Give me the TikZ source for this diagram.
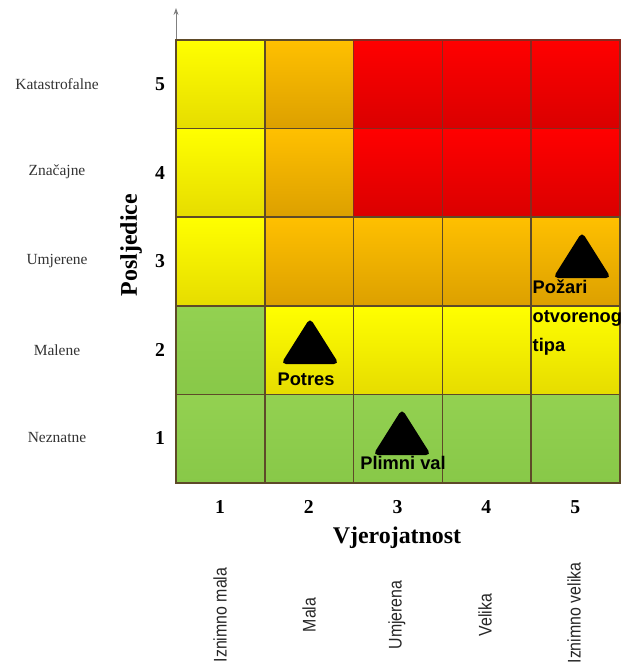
\documentclass[tikz,border=0pt]{standalone}
\usepackage{fontspec}
\setmainfont{Liberation Serif}
\newfontfamily\arialfont{Liberation Sans}
\usetikzlibrary{arrows.meta}

\definecolor{yelT}{HTML}{FFFF00}
\definecolor{yelB}{HTML}{E6DC00}
\definecolor{oraT}{HTML}{FFC000}
\definecolor{oraB}{HTML}{DCA000}
\definecolor{redT}{HTML}{FF0000}
\definecolor{redB}{HTML}{DA0000}
\definecolor{grnT}{HTML}{93D151}
\definecolor{grnB}{HTML}{88C848}
\definecolor{gridline}{HTML}{5E4A28}
\definecolor{redline}{HTML}{8A2A1E}

\tikzset{
  cell/.style={draw=gridline, line width=1.1pt},
  cellY/.style={cell, top color=yelT, bottom color=yelB},
  cellO/.style={cell, top color=oraT, bottom color=oraB},
  cellR/.style={cell, draw=redline, top color=redT, bottom color=redB},
  cellG/.style={cell, top color=grnT, bottom color=grnB},
  lvl/.style={font=\fontsize{11}{13}\selectfont, text=black!80},
  num/.style={font=\bfseries\fontsize{14}{16}\selectfont},
  axtitle/.style={font=\bfseries\fontsize{17}{20}\selectfont},
  prob/.style={rotate=90, font=\arialfont\fontsize{13}{15}\selectfont, text=black!85},
  hzlabel/.style={font=\arialfont\bfseries\fontsize{13}{20.6}\selectfont, inner sep=1pt}
}
\newcommand{\hazard}[2]{\fill[rounded corners=3.5pt] (#1,#2) -- ++(-29,46) -- ++(58,0) -- cycle;}
\newcommand{\narrow}[1]{\scalebox{0.87}[1]{#1}}

\begin{document}
\begin{tikzpicture}[x=0.025cm, y=-0.025cm]
  \useasboundingbox (0,0) rectangle (638,668);

  % axis
  \draw[gray, line width=0.6pt, -{Stealth[length=5pt,width=3.5pt]}] (176,483) -- (176,8);

  % matrix
  \foreach \row [count=\j] in {{cellY,cellO,cellR,cellR,cellR},{cellY,cellO,cellR,cellR,cellR},{cellY,cellO,cellO,cellO,cellO},{cellG,cellY,cellY,cellY,cellY},{cellG,cellG,cellG,cellG,cellG}}
    \foreach \c [count=\i] in \row
      \draw[\c] ({176+88.8*(\i-1)},{40+88.6*(\j-1)}) rectangle +(88.8,88.6);

  % consequence side
  \node[lvl] (k5) at (57,84) {Katastrofalne};
  \node[lvl] (k4) at (57,172) {Značajne};
  \node[lvl] (k3) at (57,261) {Umjerene};
  \node[lvl] (k2) at (57,350) {Malene};
  \node[lvl] (k1) at (57,438) {Neznatne};
  \foreach \n [count=\j] in {5,4,3,2,1}
    \node[num] (c\n) at (160,{84+88.6*(\j-1)}) {\n};
  \node[axtitle, rotate=90] (posl) at (131,245) {Posljedice};

  % probability side
  \foreach \n in {1,...,5}
    \node[num] (p\n) at ({220+88.8*(\n-1)},507) {\n};
  \node[axtitle] (vjer) at (397,538) {Vjerojatnost};
  \node[prob] (v1) at (220,615) {\narrow{Iznimno mala}};
  \node[prob] (v2) at (309,615) {\narrow{Mala}};
  \node[prob] (v3) at (397,615) {\narrow{Umjerena}};
  \node[prob] (v4) at (485,615) {\narrow{Velika}};
  \node[prob] (v5) at (574,613) {\narrow{Iznimno velika}};

  % hazards
  \hazard{310}{318}
  \node[hzlabel] (potres) at (306,379) {Potres};
  \hazard{402}{409}
  \node[hzlabel] (plimni) at (403,463) {Plimni val};
  \hazard{582}{232}
  \node[hzlabel, align=left, anchor=west] (pozari) at (531,318) {Požari\\otvorenog\\tipa};
\end{tikzpicture}
\end{document}
